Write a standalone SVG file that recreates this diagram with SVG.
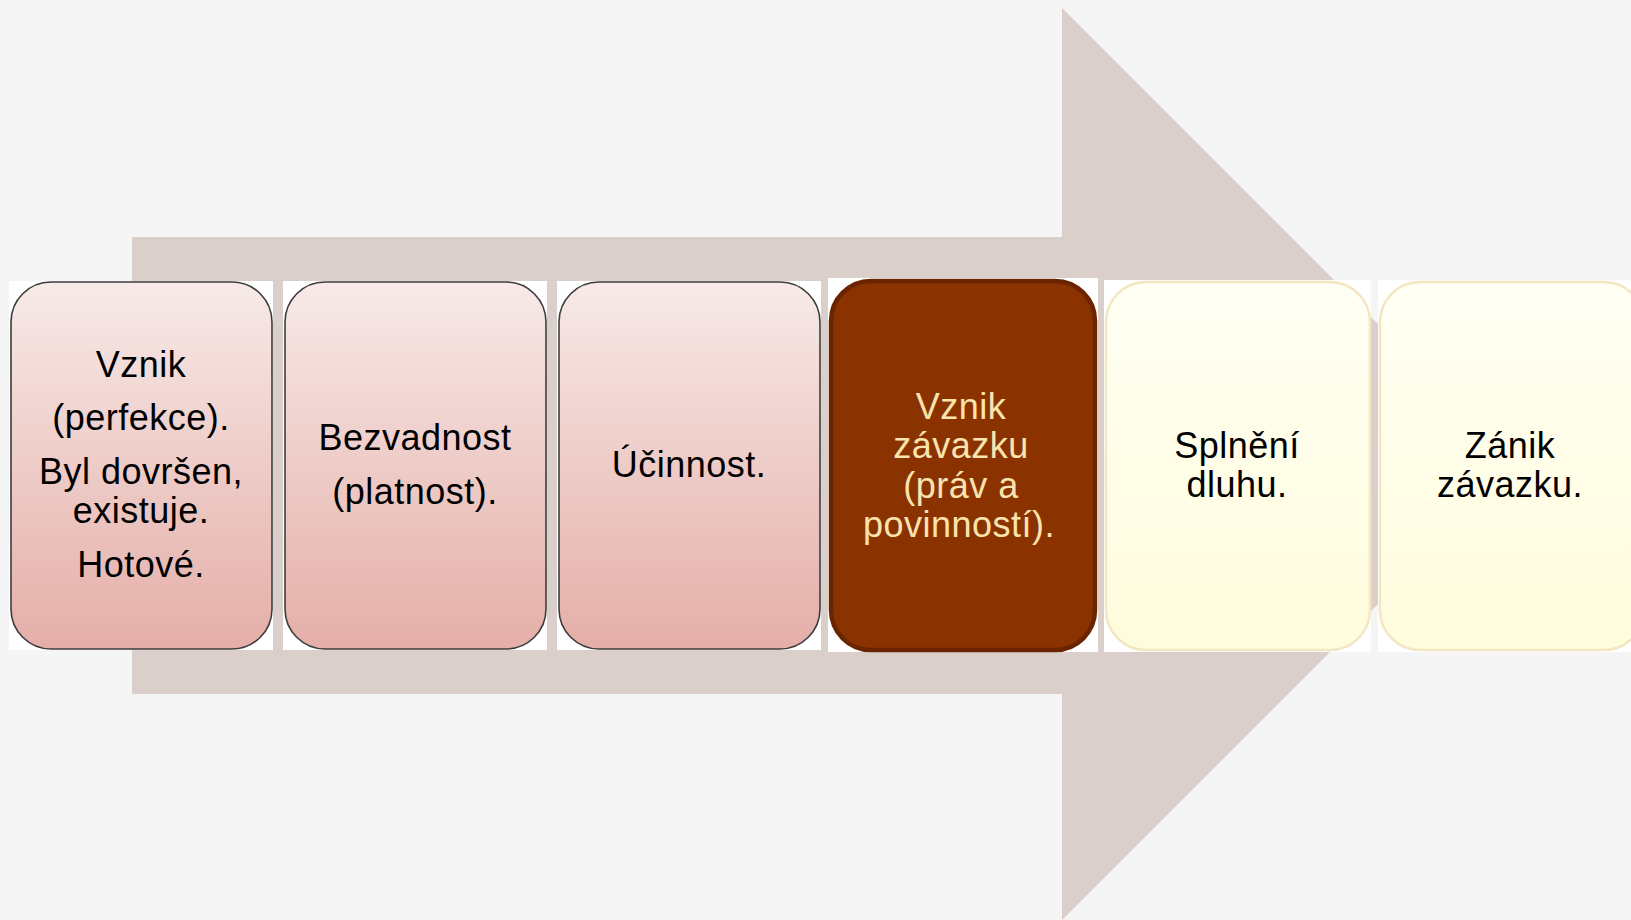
<svg xmlns="http://www.w3.org/2000/svg" width="1631" height="920" viewBox="0 0 1631 920">
  <defs>
    <linearGradient id="pinkGrad" x1="0" y1="0" x2="0" y2="1">
      <stop offset="0" stop-color="#f7eae8"/>
      <stop offset="1" stop-color="#e5aea8"/>
    </linearGradient>
    <linearGradient id="creamGrad" x1="0" y1="0" x2="0" y2="1">
      <stop offset="0" stop-color="#fffff4"/>
      <stop offset="1" stop-color="#fffcdc"/>
    </linearGradient>
    <style>
      .bg { fill: #ffffff; }
      .pink { fill: url(#pinkGrad); stroke: #3c3c3c; stroke-width: 1.6; }
      .dark { fill: #8b3300; stroke: #6b2400; stroke-width: 4.5; }
      .cream { fill: url(#creamGrad); stroke: #f3e6c2; stroke-width: 2.5; }
      .t { font-family: "Liberation Sans", Arial, sans-serif; font-size: 36px; letter-spacing: 0.5px; text-anchor: middle; fill: #000000; }
      .tl { font-family: "Liberation Sans", Arial, sans-serif; font-size: 36px; letter-spacing: 0.5px; text-anchor: middle; fill: #f9e3ae; }
    </style>
  </defs>

  <rect x="0" y="0" width="1631" height="920" fill="#f5f5f5"/>

  <g id="background-arrow">
    <polygon points="132,237 1062,237 1062,8 1518,464 1062,920 1062,694 132,694" fill="#dbcfcc"/>
  </g>

  <g id="connectors"></g>

  <g id="node-1">
    <rect class="bg" x="9" y="281" width="264" height="369"/>
    <rect class="pink" x="11" y="282" width="261" height="367" rx="40" ry="40"/>
    <text class="t" x="141" y="377">Vznik</text>
    <text class="t" x="141" y="430">(perfekce).</text>
    <text class="t" x="141" y="484">Byl dovršen,</text>
    <text class="t" x="141" y="523">existuje.</text>
    <text class="t" x="141" y="577">Hotové.</text>
  </g>

  <g id="node-2">
    <rect class="bg" x="283" y="281" width="264" height="369"/>
    <rect class="pink" x="285" y="282" width="261" height="367" rx="40" ry="40"/>
    <text class="t" x="415" y="450">Bezvadnost</text>
    <text class="t" x="415" y="504">(platnost).</text>
  </g>

  <g id="node-3">
    <rect class="bg" x="557" y="281" width="264" height="369"/>
    <rect class="pink" x="559" y="282" width="261" height="367" rx="40" ry="40"/>
    <text class="t" x="689" y="477">Účinnost.</text>
  </g>

  <g id="node-4">
    <rect class="bg" x="828" y="278" width="270" height="374"/>
    <rect class="dark" x="831" y="281" width="264" height="369" rx="40" ry="40"/>
    <text class="tl" x="961" y="419">Vznik</text>
    <text class="tl" x="961" y="458">závazku</text>
    <text class="tl" x="961" y="498">(práv a</text>
    <text class="tl" x="959" y="537">povinností).</text>
  </g>

  <g id="node-5">
    <rect class="bg" x="1104" y="280" width="267" height="372"/>
    <rect class="cream" x="1106" y="282" width="264" height="368" rx="40" ry="40"/>
    <text class="t" x="1237" y="458">Splnění</text>
    <text class="t" x="1237" y="497">dluhu.</text>
  </g>

  <g id="node-6">
    <rect class="bg" x="1378" y="280" width="267" height="372"/>
    <rect class="cream" x="1380" y="282" width="264" height="368" rx="40" ry="40"/>
    <text class="t" x="1510" y="458">Zánik</text>
    <text class="t" x="1510" y="497">závazku.</text>
  </g>
</svg>
